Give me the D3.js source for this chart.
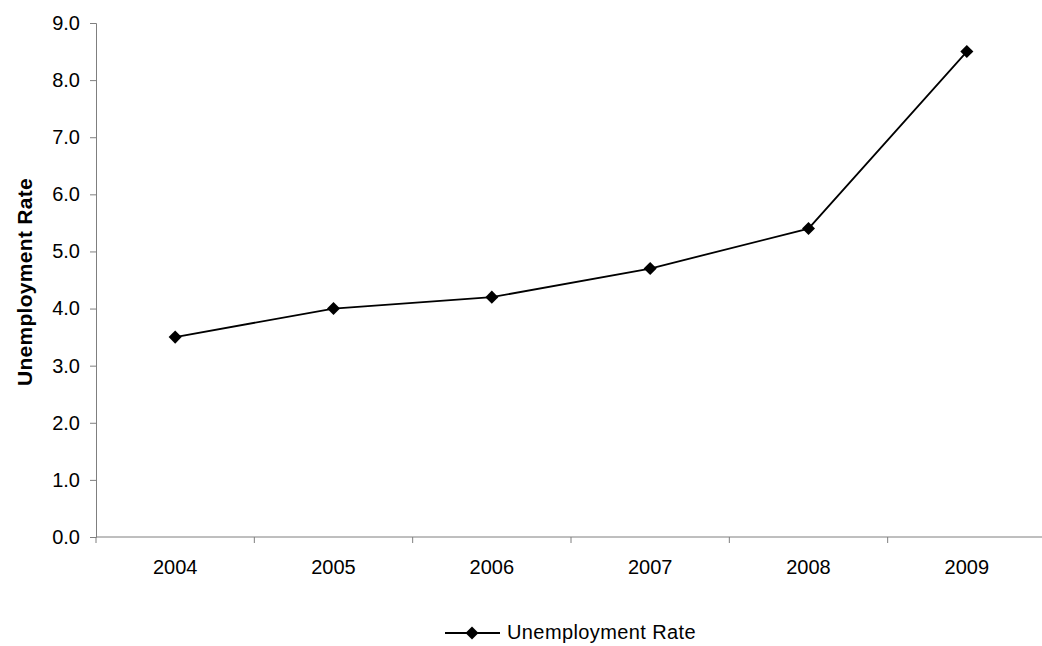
<!DOCTYPE html>
<html>
<head>
<meta charset="utf-8">
<script src="https://cdn.jsdelivr.net/npm/d3@7"></script>
<style>
  html, body { margin: 0; padding: 0; background: #fff; }
  svg { display: block; font-family: "Liberation Sans", Arial, sans-serif; }
</style>
</head>
<body>
<svg id="chart" width="1042" height="646"></svg>
<script>
// Annual unemployment rate
const years = ["2004", "2005", "2006", "2007", "2008", "2009"];
const rates = [3.5, 4.0, 4.2, 4.7, 5.4, 8.5];
const yTicks = [0, 1, 2, 3, 4, 5, 6, 7, 8, 9];
const seriesName = "Unemployment Rate";

(function draw() {
  const svg = d3.select("#chart");
  const m = { left: 96, right: 1046, top: 23, bottom: 537 };
  const axisColor = "#7f7f7f";
  const fontSize = 20;

  const x = d3.scaleBand().domain(years).range([m.left, m.right]);
  const y = d3.scaleLinear().domain([0, 9]).range([m.bottom, m.top]);

  // Y axis
  const yAxis = svg.append("g")
    .attr("transform", `translate(${m.left},0)`)
    .call(d3.axisLeft(y).tickValues(yTicks).tickFormat(d3.format(".1f")).tickSize(6).tickPadding(10));
  yAxis.select(".domain").attr("stroke", axisColor);
  yAxis.selectAll(".tick line").attr("stroke", axisColor);
  yAxis.selectAll(".tick text").attr("font-size", fontSize).attr("fill", "#000")
    .attr("font-family", "Liberation Sans, Arial, sans-serif");

  // X axis: ticks at category boundaries, labels centered in bands
  const xAxisG = svg.append("g").attr("transform", `translate(0,${m.bottom})`);
  xAxisG.append("line").attr("x1", m.left).attr("x2", m.right).attr("y1", 0).attr("y2", 0)
    .attr("stroke", axisColor);
  const boundaries = years.map(d => x(d)).concat([x(years[years.length - 1]) + x.bandwidth()]);
  xAxisG.selectAll("line.tk").data(boundaries).join("line").attr("class", "tk")
    .attr("x1", d => d).attr("x2", d => d).attr("y1", 0).attr("y2", 6)
    .attr("stroke", axisColor);
  xAxisG.selectAll("text").data(years).join("text")
    .attr("x", d => x(d) + x.bandwidth() / 2).attr("y", 37)
    .attr("text-anchor", "middle").attr("font-size", fontSize).attr("fill", "#000")
    .text(d => d);

  // Y axis title
  svg.append("text")
    .attr("transform", `translate(32,282) rotate(-90)`)
    .attr("text-anchor", "middle").attr("font-size", 21).attr("font-weight", "bold")
    .attr("letter-spacing", 0.3)
    .text(seriesName);

  // Series line
  const cx = d => x(d) + x.bandwidth() / 2;
  const line = d3.line().x((d, i) => cx(years[i])).y(d => y(d));
  svg.append("path").datum(rates).attr("d", line)
    .attr("fill", "none").attr("stroke", "#000").attr("stroke-width", 1.8);

  const diamond = d3.symbol().type(d3.symbolSquare).size(85);
  svg.selectAll("path.pt").data(rates).join("path").attr("class", "pt")
    .attr("d", diamond)
    .attr("transform", (d, i) => `translate(${cx(years[i])},${y(d)}) rotate(45)`)
    .attr("fill", "#000");

  // Legend
  const lg = svg.append("g").attr("transform", "translate(445,633)");
  lg.append("line").attr("x1", 0).attr("x2", 55).attr("y1", 0).attr("y2", 0)
    .attr("stroke", "#000").attr("stroke-width", 1.8);
  lg.append("path").attr("d", diamond).attr("transform", "translate(27,0) rotate(45)").attr("fill", "#000");
  lg.append("text").attr("x", 62).attr("y", 6).attr("font-size", fontSize)
    .attr("letter-spacing", 0.4).text(seriesName);
})();
</script>
</body>
</html>
